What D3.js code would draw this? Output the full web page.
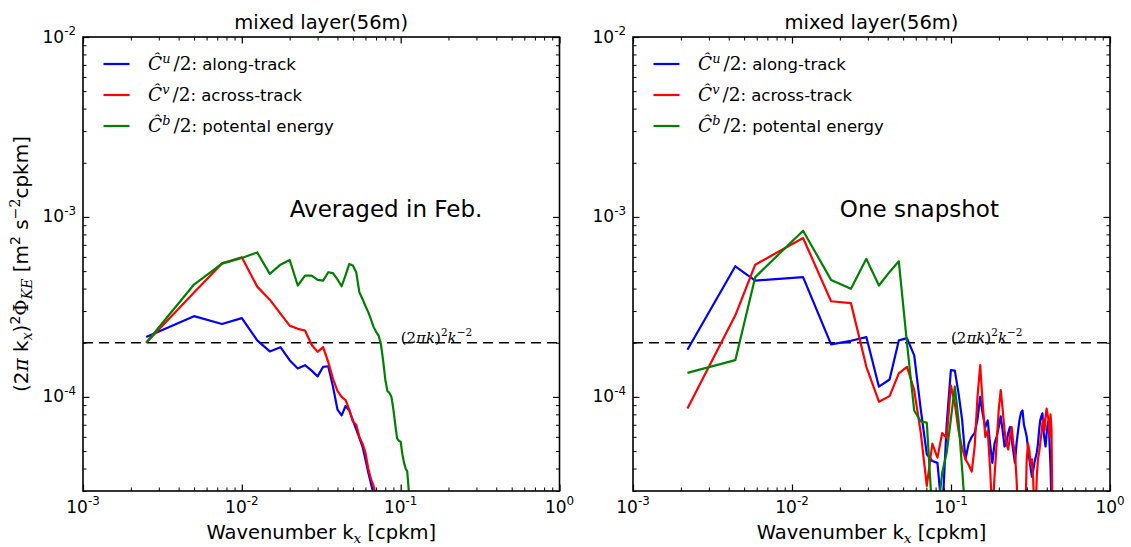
<!DOCTYPE html>
<html>
<head>
<meta charset="utf-8">
<script src="https://cdn.jsdelivr.net/npm/d3@7"></script>
<style>
  body { margin: 0; background: #fff; }
  text { white-space: pre; }
</style>
</head>
<body>
<svg id="chart" width="1131" height="547"></svg>
<script>
// ---- wavenumbers (cpkm) and spectra ----
const kAvg = [0.0025, 0.005, 0.0075, 0.01, 0.0125, 0.015, 0.0175, 0.02, 0.0225, 0.025,
  0.0275, 0.03, 0.0325, 0.035, 0.0375, 0.04, 0.0425, 0.045, 0.0475, 0.05,
  0.0525, 0.055, 0.0575, 0.06, 0.0625, 0.065, 0.0675, 0.07, 0.0725, 0.075,
  0.0775, 0.08, 0.0825, 0.085, 0.0875, 0.09, 0.0925, 0.095, 0.0975, 0.1,
  0.1025, 0.105, 0.1075, 0.11, 0.1125, 0.115];

const avgAlong = [2.15e-4, 2.81e-4, 2.54e-4, 2.74e-4, 2.06e-4, 1.79e-4, 1.89e-4, 1.60e-4, 1.44e-4, 1.50e-4,
  1.40e-4, 1.30e-4, 1.47e-4, 1.48e-4, 1.14e-4, 8.5e-5, 7.9e-5, 8.9e-5, 8.4e-5, 7.4e-5,
  6.6e-5, 5.9e-5, 5.3e-5, 4.5e-5, 3.8e-5, 3.3e-5, 2.9e-5, 2.5e-5];

const avgAcross = [2.0e-4, 3.8e-4, 5.52e-4, 5.97e-4, 4.1e-4, 3.47e-4, 2.90e-4, 2.49e-4, 2.39e-4, 2.34e-4,
  1.95e-4, 1.78e-4, 1.89e-4, 1.56e-4, 1.26e-4, 1.08e-4, 1.0e-4, 9.6e-5, 8.5e-5, 7.3e-5,
  7.0e-5, 6.0e-5, 5.5e-5, 4.9e-5, 4.0e-5, 3.5e-5, 3.2e-5, 2.8e-5, 2.4e-5];

const avgPotential = [2.0e-4, 4.21e-4, 5.5e-4, 5.92e-4, 6.35e-4, 4.83e-4, 5.43e-4, 5.77e-4, 4.16e-4, 4.72e-4,
  4.72e-4, 4.47e-4, 4.43e-4, 4.93e-4, 4.87e-4, 4.5e-4, 4.12e-4, 4.75e-4, 5.48e-4, 5.37e-4,
  4.93e-4, 3.8e-4, 3.5e-4, 3.2e-4, 2.96e-4, 2.7e-4, 2.45e-4, 2.3e-4, 2.2e-4, 1.98e-4,
  1.6e-4, 1.25e-4, 1.08e-4, 1.05e-4, 1.0e-4, 8.5e-5, 7.0e-5, 5.88e-5, 5.7e-5, 5.64e-5,
  4.8e-5, 4.3e-5, 4.0e-5, 3.85e-5, 3.0e-5, 2.2e-5];

const kSnap = [0.0022, 0.0044, 0.00587, 0.01174, 0.01761, 0.02348, 0.02935, 0.03522, 0.04109, 0.04696,
  0.05283, 0.0587, 0.06457, 0.07044, 0.07631, 0.08218, 0.08805, 0.09392, 0.09979, 0.1057,
  0.1115, 0.1174, 0.1233, 0.1291, 0.135, 0.1409, 0.1468, 0.1526, 0.1585, 0.1644,
  0.1702, 0.1761, 0.182, 0.1878, 0.1937, 0.1996, 0.2055, 0.2113, 0.2172, 0.2231,
  0.2289, 0.2348, 0.2407, 0.2465, 0.2524, 0.2583, 0.2642, 0.27, 0.2759, 0.2818,
  0.2876, 0.2935, 0.2994, 0.3052, 0.3111, 0.317, 0.3229, 0.3287, 0.3346, 0.3405,
  0.3463, 0.3522, 0.3581, 0.3639, 0.3698, 0.3757, 0.3816, 0.3874, 0.3933, 0.3992,
  0.405, 0.4109, 0.4168, 0.4226, 0.4285, 0.4344];

const snapAlong = [1.83e-4, 5.32e-4, 4.43e-4, 4.63e-4, 1.96e-4, 2.05e-4, 2.15e-4, 1.14e-4, 1.25e-4, 2.06e-4,
  2.12e-4, 1.70e-4, 8.5e-5, 4.8e-5, 4.4e-5, 4.3e-5, 2.2e-5, 7.0e-5, 1.41e-4, 1.40e-4,
  1.05e-4, 7.5e-5, 4.5e-5, 5.5e-5, 6.0e-5, 6.3e-5, 7.5e-5, 1.0e-4, 8.0e-5, 6.8e-5,
  7.4e-5, 5.5e-5, 4.3e-5, 5.5e-5, 6.0e-5, 6.8e-5, 7.8e-5, 6.5e-5, 5.3e-5, 5.5e-5,
  6.3e-5, 6.8e-5, 5.8e-5, 5.0e-5, 4.3e-5, 5.5e-5, 6.5e-5, 7.5e-5, 8.2e-5, 8.4e-5,
  7.0e-5, 6.5e-5, 6.0e-5, 5.2e-5, 4.5e-5, 4.0e-5, 3.6e-5, 3.9e-5, 4.3e-5, 4.6e-5,
  4.9e-5, 5.5e-5, 6.5e-5, 7.4e-5, 7.8e-5, 8.1e-5, 6.5e-5, 5.8e-5, 5.3e-5, 6.2e-5,
  7.0e-5, 7.4e-5, 5.5e-5, 4.1e-5, 2.5e-5];

const snapAcross = [8.63e-5, 2.84e-4, 5.43e-4, 7.64e-4, 3.40e-4, 3.32e-4, 1.47e-4, 9.4e-5, 1.01e-4, 1.35e-4,
  1.47e-4, 1.09e-4, 6.3e-5, 3.2e-5, 5.5e-5, 4.6e-5, 6.3e-5, 5.9e-5, 1.16e-4, 9.2e-5,
  6.5e-5, 5.2e-5, 4.5e-5, 4.2e-5, 3.85e-5, 5.3e-5, 1.0e-4, 1.5e-4, 9.0e-5, 6.0e-5,
  6.5e-5, 4.0e-5, 2.2e-5, 3.6e-5, 5.5e-5, 8.5e-5, 1.09e-4, 8.5e-5, 6.5e-5, 5.5e-5,
  5.1e-5, 6.0e-5, 6.8e-5, 5.5e-5, 4.9e-5, 3.5e-5, 2.2e-5, 2.2e-5, 2.2e-5, 2.2e-5,
  2.2e-5, 2.2e-5, 4.5e-5, 5.5e-5, 5.0e-5, 4.2e-5, 4.5e-5, 3.5e-5, 2.2e-5, 2.2e-5,
  3.6e-5, 4.5e-5, 4.9e-5, 5.5e-5, 6.2e-5, 7.1e-5, 7.5e-5, 6.5e-5, 7.8e-5, 8.6e-5,
  8.0e-5, 7.4e-5, 6.0e-5, 8.0e-5, 6.7e-5, 2.2e-5];

const snapPotential = [1.36e-4, 1.6e-4, 4.63e-4, 8.39e-4, 4.47e-4, 3.99e-4, 5.85e-4, 4.16e-4, 4.95e-4, 5.67e-4,
  2.0e-4, 8.4e-5, 7.3e-5, 7.2e-5, 2.2e-5, 2.2e-5, 3.8e-5, 4.9e-5, 7.5e-5, 1.14e-4,
  7.4e-5, 4.0e-5, 2.2e-5];

// reference slope level and axis ticks
const refLevel = 2e-4;
const xMajor = [1e-3, 1e-2, 1e-1, 1];
const xMajorExp = ["-3", "-2", "-1", "0"];
const yMajor = [1e-4, 1e-3, 1e-2];
const yMajorExp = ["-4", "-3", "-2"];
const seriesNames = ["along-track", "across-track", "potental energy"];
const seriesSup = ["u", "v", "b"];
const seriesColors = ["#0000ff", "#ff0000", "#008000"];

const SANS = "DejaVu Sans";
const SERIF = "DejaVu Serif";

const svg = d3.select("#chart");
const plotTop = 37, plotBottom = 491;

const panels = [
  { id: "avg", x0: 83, x1: 559.5, note: "Averaged in Feb.", k: kAvg, series: [avgAlong, avgAcross, avgPotential] },
  { id: "snap", x0: 633, x1: 1110, note: "One snapshot", k: kSnap, series: [snapAlong, snapAcross, snapPotential] }
];

function minorTicks(lo, hi) {
  const out = [];
  for (let e = Math.floor(Math.log10(lo)); e <= Math.ceil(Math.log10(hi)); e++) {
    for (let m = 2; m <= 9; m++) {
      const v = m * Math.pow(10, e);
      if (v >= lo * 0.999 && v <= hi * 1.001) out.push(v);
    }
  }
  return out;
}

// text with super/subscripts built from tspans
function rich(sel, parts, size) {
  const t = sel.append("text").attr("font-size", size).attr("font-family", SANS).attr("fill", "#000");
  let cur = 0;
  for (const p of parts) {
    const shift = p.sup ? -0.42 * size : p.sub ? 0.22 * size : 0;
    const ts = t.append("tspan").text(p.t);
    if (shift !== cur) ts.attr("dy", shift - cur);
    if (p.dx) ts.attr("dx", p.dx);
    cur = shift;
    const scale = (p.sup || p.sub ? 0.7 : 1) * (p.scale || 1);
    if (scale !== 1) ts.attr("font-size", size * scale);
    if (p.math) ts.attr("font-family", SERIF);
    if (p.it) ts.attr("font-style", "italic");
  }
  return t;
}

panels.forEach(P => {
  const x = d3.scaleLog().domain([1e-3, 1]).range([P.x0, P.x1]);
  const y = d3.scaleLog().domain([3e-5, 1e-2]).range([plotBottom, plotTop]);
  const g = svg.append("g");

  g.append("clipPath").attr("id", "clip-" + P.id)
    .append("rect").attr("x", P.x0).attr("y", plotTop).attr("width", P.x1 - P.x0).attr("height", plotBottom - plotTop);

  // reference line
  g.append("line")
    .attr("x1", P.x0).attr("x2", P.x1).attr("y1", y(refLevel)).attr("y2", y(refLevel))
    .attr("stroke", "#000").attr("stroke-width", 1.6).attr("stroke-dasharray", "10,6");

  // spectra
  const line = d3.line().x(d => x(d[0])).y(d => y(d[1]));
  const lines = g.append("g").attr("clip-path", `url(#clip-${P.id})`);
  P.series.forEach((vals, i) => {
    const pts = vals.map((v, j) => [P.k[j], v]);
    lines.append("path").datum(pts)
      .attr("d", line).attr("fill", "none")
      .attr("stroke", seriesColors[i]).attr("stroke-width", 2.2)
      .attr("stroke-linejoin", "round");
  });

  // label for the reference line
  rich(g, [
    { t: "(2", math: true }, { t: "π", math: true, it: true }, { t: "k", math: true, it: true },
    { t: ")", math: true }, { t: "2", math: true, sup: true }, { t: "k", math: true, it: true },
    { t: "−2", math: true, sup: true }
  ], 15).attr("x", x(0.1)).attr("y", y(refLevel));

  // ticks on all four sides, pointing inward
  const xMinor = minorTicks(1e-3, 1);
  const yMinor = minorTicks(3e-5, 1e-2);
  const axes = [
    [d3.axisBottom(x), `translate(0,${plotBottom})`, xMajor, xMinor],
    [d3.axisTop(x), `translate(0,${plotTop})`, xMajor, xMinor],
    [d3.axisLeft(y), `translate(${P.x0},0)`, yMajor, yMinor],
    [d3.axisRight(y), `translate(${P.x1},0)`, yMajor, yMinor]
  ];
  axes.forEach(([ax, tr, maj, min]) => {
    g.append("g").attr("transform", tr)
      .call(ax.tickValues(min).tickSizeInner(-3.5).tickSizeOuter(0).tickFormat(""))
      .call(s => s.select(".domain").remove())
      .selectAll("line").attr("stroke", "#000").attr("stroke-width", 1);
    g.append("g").attr("transform", tr)
      .call(ax.tickValues(maj).tickSizeInner(-6.5).tickSizeOuter(0).tickFormat(""))
      .call(s => s.select(".domain").remove())
      .selectAll("line").attr("stroke", "#000").attr("stroke-width", 1.2);
  });

  g.append("rect").attr("x", P.x0).attr("y", plotTop).attr("width", P.x1 - P.x0).attr("height", plotBottom - plotTop)
    .attr("fill", "none").attr("stroke", "#000").attr("stroke-width", 1.6);

  // tick labels
  xMajor.forEach((v, i) => {
    rich(g, [{ t: "10" }, { t: xMajorExp[i], sup: true }], 17)
      .attr("x", x(v)).attr("y", 512.5).attr("text-anchor", "middle");
  });
  yMajor.forEach((v, i) => {
    rich(g, [{ t: "10" }, { t: yMajorExp[i], sup: true }], 17)
      .attr("x", P.x0 - 7).attr("y", y(v) + 5.5).attr("text-anchor", "end");
  });

  // title and x label
  g.append("text").attr("x", (P.x0 + P.x1) / 2).attr("y", 29).attr("text-anchor", "middle")
    .attr("font-family", SANS).attr("font-size", 19.5).text("mixed layer(56m)");
  rich(g, [{ t: "Wavenumber k" }, { t: "x", math: true, it: true, sub: true }, { t: " [cpkm]" }], 19.5)
    .attr("x", (P.x0 + P.x1) / 2).attr("y", 539).attr("text-anchor", "middle");

  // panel annotation
  g.append("text").attr("x", x(0.02)).attr("y", y(1e-3))
    .attr("font-family", SANS).attr("font-size", 23).text(P.note);

  // legend
  seriesNames.forEach((name, i) => {
    const ly = 64 + i * 31;
    g.append("line").attr("x1", P.x0 + 20.5).attr("x2", P.x0 + 46.5).attr("y1", ly).attr("y2", ly)
      .attr("stroke", seriesColors[i]).attr("stroke-width", 2.2);
    rich(g, [
      { t: "Ĉ", math: true, it: true, scale: 1.12 }, { t: seriesSup[i], math: true, it: true, sup: true, scale: 1.12 },
      { t: "/2", math: true, scale: 1.12, dx: 3 }, { t: ": " + name }
    ], 16.5).attr("x", P.x0 + 65).attr("y", ly + 6);
  });
});

// shared y label
rich(svg, [
  { t: "(2" }, { t: "π", math: true, it: true }, { t: " k" }, { t: "x", math: true, it: true, sub: true },
  { t: ")" }, { t: "2", sup: true }, { t: "Φ", math: true }, { t: "KE", math: true, it: true, sub: true },
  { t: " [m" }, { t: "2", sup: true }, { t: " s" }, { t: "−2", math: true, sup: true }, { t: "cpkm]" }
], 20).attr("text-anchor", "middle").attr("transform", "translate(28,264) rotate(-90)");
</script>
</body>
</html>
